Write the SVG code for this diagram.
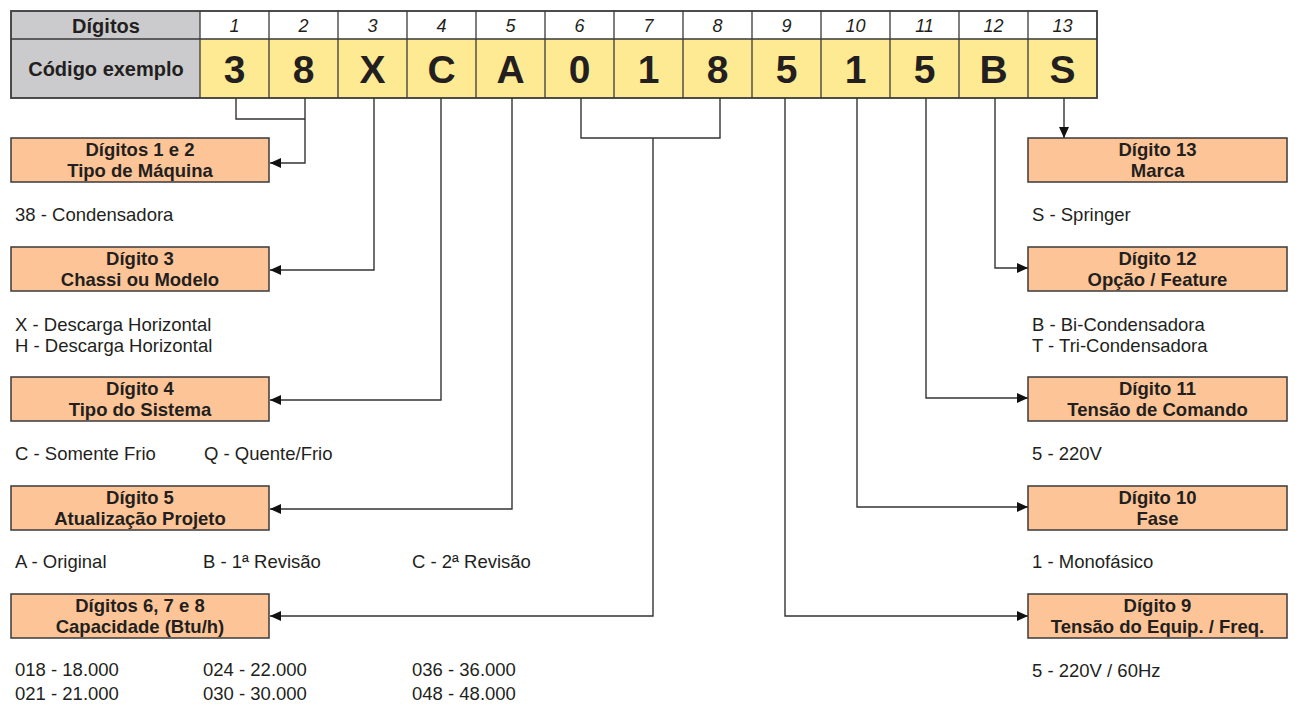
<svg xmlns="http://www.w3.org/2000/svg" width="1299" height="705" viewBox="0 0 1299 705">
<style>
text{font-family:"Liberation Sans",Arial,Helvetica,sans-serif;fill:#231f20}
.hd{font-size:20px;font-weight:bold;text-anchor:middle}
.num{font-size:18px;font-style:italic;text-anchor:middle}
.big{font-size:39px;font-weight:bold;text-anchor:middle}
.bx{fill:#fdc597;stroke:#3a3a3a;stroke-width:1.5}
.bt{font-size:18.5px;font-weight:bold;text-anchor:middle}
.d{font-size:18.5px}
.grid{fill:none;stroke:#3a3a3a;stroke-width:1.3}
.c{fill:none;stroke:#333;stroke-width:1.4}
</style>
<defs>
<marker id="ah" markerUnits="userSpaceOnUse" markerWidth="11" markerHeight="10" refX="11" refY="5" orient="auto">
<path d="M0,0 L11,5 L0,10 z" fill="#111"/>
</marker>
</defs>

<g id="table">
<rect x="11" y="11" width="189" height="87" fill="#cbcbcd"/>
<rect x="200" y="11" width="897" height="28" fill="#ffffff"/>
<rect x="200" y="39" width="897" height="59" fill="#ffea94"/>
<path class="grid" d="M11 39H1097M200 11V98M269 11V98M338 11V98M407 11V98M476 11V98M545 11V98M614 11V98M683 11V98M752 11V98M821 11V98M890 11V98M959 11V98M1028 11V98"/>
<rect x="11" y="11" width="1086" height="87" fill="none" stroke="#3a3a3a" stroke-width="1.8"/>
<text class="hd" x="106" y="33">Dígitos</text>
<text class="hd" x="106" y="76">Código exemplo</text>
<text class="num" x="234.5" y="32">1</text>
<text class="num" x="303.5" y="32">2</text>
<text class="num" x="372.5" y="32">3</text>
<text class="num" x="441.5" y="32">4</text>
<text class="num" x="510.5" y="32">5</text>
<text class="num" x="579.5" y="32">6</text>
<text class="num" x="648.5" y="32">7</text>
<text class="num" x="717.5" y="32">8</text>
<text class="num" x="786.5" y="32">9</text>
<text class="num" x="855.5" y="32">10</text>
<text class="num" x="924.5" y="32">11</text>
<text class="num" x="993.5" y="32">12</text>
<text class="num" x="1062.5" y="32">13</text>
<text class="big" x="234.5" y="83">3</text>
<text class="big" x="303.5" y="83">8</text>
<text class="big" x="372.5" y="83">X</text>
<text class="big" x="441.5" y="83">C</text>
<text class="big" x="510.5" y="83">A</text>
<text class="big" x="579.5" y="83">0</text>
<text class="big" x="648.5" y="83">1</text>
<text class="big" x="717.5" y="83">8</text>
<text class="big" x="786.5" y="83">5</text>
<text class="big" x="855.5" y="83">1</text>
<text class="big" x="924.5" y="83">5</text>
<text class="big" x="993.5" y="83">B</text>
<text class="big" x="1062.5" y="83">S</text>
</g>

<g id="connectors">
<path class="c" d="M236 98V119H305"/>
<path class="c" d="M305 98V163H270" marker-end="url(#ah)"/>
<path class="c" d="M374 98V270H270" marker-end="url(#ah)"/>
<path class="c" d="M441 98V400H270" marker-end="url(#ah)"/>
<path class="c" d="M512 98V509H270" marker-end="url(#ah)"/>
<path class="c" d="M581 98V138H720V98"/>
<path class="c" d="M653 138V616H270" marker-end="url(#ah)"/>
<path class="c" d="M785 98V616H1028" marker-end="url(#ah)"/>
<path class="c" d="M857 98V507H1028" marker-end="url(#ah)"/>
<path class="c" d="M926 98V398H1028" marker-end="url(#ah)"/>
<path class="c" d="M995 98V268H1028" marker-end="url(#ah)"/>
<path class="c" d="M1064 98V138" marker-end="url(#ah)"/>
</g>

<g id="d12">
<rect class="bx" x="11" y="138" width="258" height="44"/>
<text class="bt" x="140" y="156">Dígitos 1 e 2</text>
<text class="bt" x="140" y="176.5">Tipo de Máquina</text>
<text class="d" x="15" y="221">38 - Condensadora</text>
</g>
<g id="d3">
<rect class="bx" x="11" y="247" width="258" height="44"/>
<text class="bt" x="140" y="265">Dígito 3</text>
<text class="bt" x="140" y="285.5">Chassi ou Modelo</text>
<text class="d" x="15" y="331">X - Descarga Horizontal</text>
<text class="d" x="15" y="352">H - Descarga Horizontal</text>
</g>
<g id="d4">
<rect class="bx" x="11" y="377" width="258" height="44"/>
<text class="bt" x="140" y="395">Dígito 4</text>
<text class="bt" x="140" y="415.5">Tipo do Sistema</text>
<text class="d" x="15" y="460">C - Somente Frio</text>
<text class="d" x="204" y="460">Q - Quente/Frio</text>
</g>
<g id="d5">
<rect class="bx" x="11" y="486" width="258" height="44"/>
<text class="bt" x="140" y="504">Dígito 5</text>
<text class="bt" x="140" y="524.5">Atualização Projeto</text>
<text class="d" x="15" y="568">A - Original</text>
<text class="d" x="203" y="568">B - 1ª Revisão</text>
<text class="d" x="412" y="568">C - 2ª Revisão</text>
</g>
<g id="d678">
<rect class="bx" x="11" y="594" width="258" height="44"/>
<text class="bt" x="140" y="612">Dígitos 6, 7 e 8</text>
<text class="bt" x="140" y="632.5">Capacidade (Btu/h)</text>
<text class="d" x="15" y="676">018 - 18.000</text>
<text class="d" x="15" y="700">021 - 21.000</text>
<text class="d" x="203" y="676">024 - 22.000</text>
<text class="d" x="203" y="700">030 - 30.000</text>
<text class="d" x="412" y="676">036 - 36.000</text>
<text class="d" x="412" y="700">048 - 48.000</text>
</g>

<g id="d13">
<rect class="bx" x="1028" y="138" width="259" height="44"/>
<text class="bt" x="1157.5" y="156">Dígito 13</text>
<text class="bt" x="1157.5" y="176.5">Marca</text>
<text class="d" x="1032" y="221">S - Springer</text>
</g>
<g id="d12b">
<rect class="bx" x="1028" y="247" width="259" height="44"/>
<text class="bt" x="1157.5" y="265">Dígito 12</text>
<text class="bt" x="1157.5" y="285.5">Opção / Feature</text>
<text class="d" x="1032" y="331">B - Bi-Condensadora</text>
<text class="d" x="1032" y="352">T - Tri-Condensadora</text>
</g>
<g id="d11">
<rect class="bx" x="1028" y="377" width="259" height="44"/>
<text class="bt" x="1157.5" y="395">Dígito 11</text>
<text class="bt" x="1157.5" y="415.5">Tensão de Comando</text>
<text class="d" x="1032" y="460">5 - 220V</text>
</g>
<g id="d10">
<rect class="bx" x="1028" y="486" width="259" height="44"/>
<text class="bt" x="1157.5" y="504">Dígito 10</text>
<text class="bt" x="1157.5" y="524.5">Fase</text>
<text class="d" x="1032" y="568">1 - Monofásico</text>
</g>
<g id="d9">
<rect class="bx" x="1028" y="594" width="259" height="44"/>
<text class="bt" x="1157.5" y="612">Dígito 9</text>
<text class="bt" x="1157.5" y="632.5">Tensão do Equip. / Freq.</text>
<text class="d" x="1032" y="677">5 - 220V / 60Hz</text>
</g>
</svg>
